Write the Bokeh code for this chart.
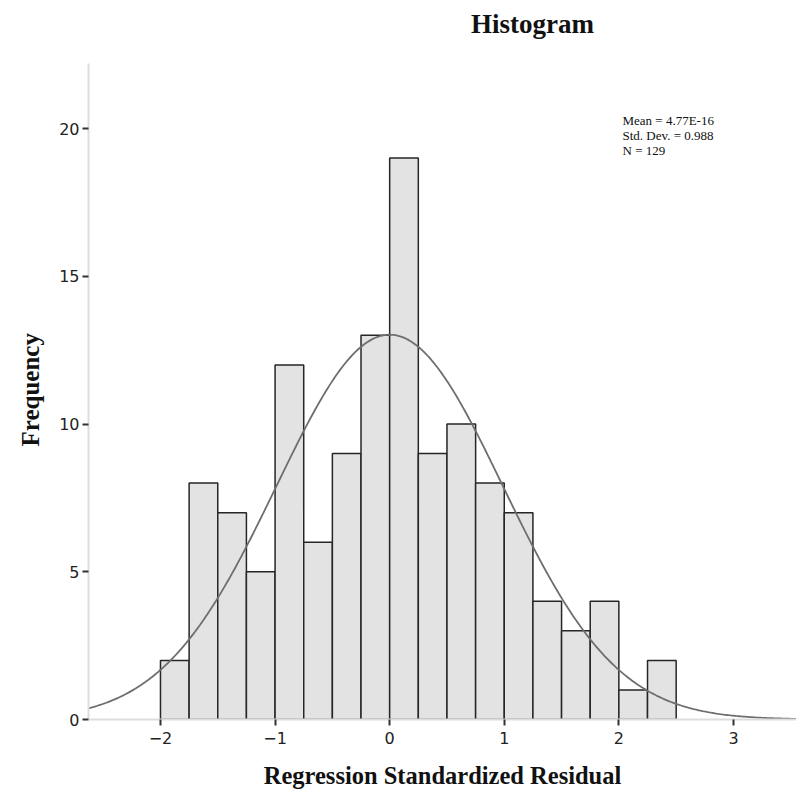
import numpy as np
from bokeh.plotting import figure
from bokeh.models import Range1d, FixedTicker, Label, ColumnDataSource, Title
from bokeh.embed import file_html
from bokeh.resources import INLINE

# Histogram bins (width 0.25) and frequencies
bin_left = [-2.0, -1.75, -1.5, -1.25, -1.0, -0.75, -0.5, -0.25, 0.0,
            0.25, 0.5, 0.75, 1.0, 1.25, 1.5, 1.75, 2.0, 2.25]
bin_right = [-1.75, -1.5, -1.25, -1.0, -0.75, -0.5, -0.25, 0.0, 0.25,
             0.5, 0.75, 1.0, 1.25, 1.5, 1.75, 2.0, 2.25, 2.5]
counts = [2, 8, 7, 5, 12, 6, 9, 13, 19, 9, 10, 8, 7, 4, 3, 4, 1, 2]

# Summary statistics
mean = 4.77e-16
std = 0.988
n = 129
bin_width = 0.25
stats_lines = ["Mean = 4.77E-16", "Std. Dev. = 0.988", "N = 129"]
title_text = "Histogram"
x_label = "Regression Standardized Residual"
y_label = "Frequency"

x_ticks = [-2, -1, 0, 1, 2, 3]
y_ticks = [0, 5, 10, 15, 20]

y_axis_top = 22.2
p = figure(width=796, height=794, output_backend="svg", toolbar_location=None,
           x_range=Range1d(-2.628, 3.55), y_range=Range1d(0, y_axis_top + 63 / 29.55),
           min_border_left=88, min_border_right=0, min_border_top=0,
           min_border_bottom=75)
p.outline_line_color = None
p.xgrid.visible = False
p.ygrid.visible = False
p.background_fill_color = "white"
p.border_fill_color = "white"

src = ColumnDataSource(dict(left=bin_left, right=bin_right, top=counts,
                            bottom=[0] * len(counts)))
p.quad(left="left", right="right", top="top", bottom="bottom", source=src,
       fill_color="#e3e3e3", line_color="#262626", line_width=1.5)

# Normal curve fitted with the stated mean, std and N
xs = np.linspace(-2.628, 3.55, 400)
ys = n * bin_width / (std * np.sqrt(2 * np.pi)) * np.exp(-0.5 * ((xs - mean) / std) ** 2)
p.line(xs, ys, line_color="#6e6e6e", line_width=1.8)

for ax in (p.xaxis[0], p.yaxis[0]):
    ax.axis_line_color = "#dddddd"
    ax.axis_line_width = 2
    ax.major_tick_line_color = "#333333"
    ax.major_tick_line_width = 2
    ax.major_tick_out = 6
    ax.major_tick_in = 0
    ax.minor_tick_line_color = None
    ax.major_label_text_font = "DejaVu Sans"
    ax.major_label_text_font_size = "16px"
    ax.major_label_text_color = "#222222"

p.yaxis.bounds = (0, y_axis_top)
p.xaxis.ticker = FixedTicker(ticks=x_ticks)
p.yaxis.ticker = FixedTicker(ticks=y_ticks)
p.xaxis.major_label_overrides = {t: (("\u2212" + str(-t)) if t < 0 else str(t)) for t in x_ticks}
p.xaxis.major_label_standoff = 6
p.yaxis.major_label_standoff = 3
p.xaxis.axis_label = x_label
p.xaxis.axis_label_text_font = "Liberation Serif"
p.xaxis.axis_label_text_font_style = "bold"
p.xaxis.axis_label_text_color = "#111111"
p.xaxis.axis_label_text_font_size = "24.5px"
p.xaxis.axis_label_standoff = 15

# Y-axis label as a vertical title in the left panel, shifted to centre on the axis
p.add_layout(Title(text=y_label, align="left", offset=273, standoff=25,
                   text_font="Liberation Serif", text_font_style="bold",
                   text_font_size="25px", text_color="#111111"), "left")

# Title at the top of the page (screen units relative to the frame)
p.add_layout(Label(x=444, y=696, x_units="screen", y_units="screen",
                   text=title_text, text_font="Liberation Serif", text_font_style="bold",
                   text_font_size="27px", text_color="#111111",
                   text_align="center", text_baseline="alphabetic"))

for i, line in enumerate(stats_lines):
    p.add_layout(Label(x=534, y=599 - i * 15, x_units="screen", y_units="screen",
                       text=line, text_font="Liberation Serif", text_font_size="13px",
                       text_color="#111111", text_baseline="middle"))

open("out.html", "w").write(file_html(p, INLINE))
